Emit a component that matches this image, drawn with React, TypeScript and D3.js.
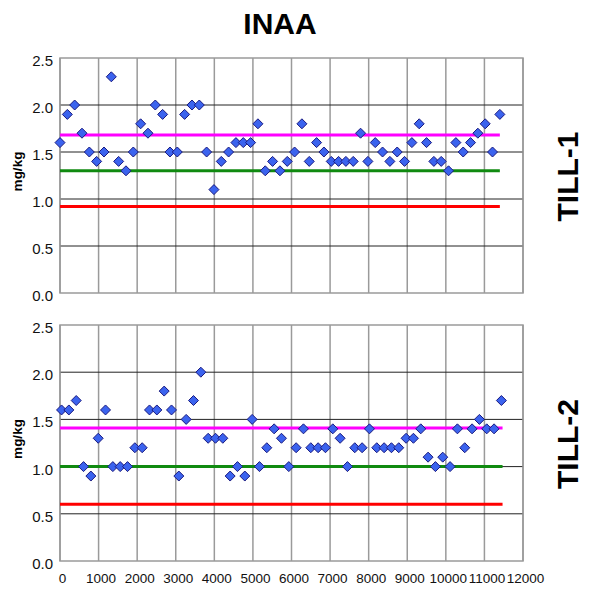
import React from "react";
import * as d3 from "d3";

const title = "INAA";
const yLabel = "mg/kg";
const panelNames = ["TILL-1", "TILL-2"];
const xTicks = [0, 1000, 2000, 3000, 4000, 5000, 6000, 7000, 8000, 9000, 10000, 11000, 12000];
const yTicks = [0, 0.5, 1.0, 1.5, 2.0, 2.5];

const till1X = [0,190,380,570,760,950,1140,1330,1520,1710,1900,2090,2280,2470,2660,2850,3040,3230,3420,3610,3800,3990,4180,4370,4560,4750,4940,5130,5320,5510,5700,5890,6080,6270,6460,6650,6840,7030,7220,7410,7600,7790,7980,8170,8360,8550,8740,8930,9120,9310,9500,9690,9880,10070,10260,10450,10640,10830,11020,11210,11400];
const till1Values = [1.6,1.9,2.0,1.7,1.5,1.4,1.5,2.3,1.4,1.3,1.5,1.8,1.7,2.0,1.9,1.5,1.5,1.9,2.0,2.0,1.5,1.1,1.4,1.5,1.6,1.6,1.6,1.8,1.3,1.4,1.3,1.4,1.5,1.8,1.4,1.6,1.5,1.4,1.4,1.4,1.4,1.7,1.4,1.6,1.5,1.4,1.5,1.4,1.6,1.8,1.6,1.4,1.4,1.3,1.6,1.5,1.6,1.7,1.8,1.5,1.9];

const till2X = [40,230,420,610,800,990,1180,1370,1560,1750,1940,2130,2320,2510,2700,2890,3080,3270,3460,3650,3840,4030,4220,4410,4600,4790,4980,5170,5360,5550,5740,5930,6120,6310,6500,6690,6880,7070,7260,7450,7640,7830,8020,8210,8400,8590,8780,8970,9160,9350,9540,9730,9920,10110,10300,10490,10680,10870,11060,11250,11440];
const till2Values = [1.6,1.6,1.7,1.0,0.9,1.3,1.6,1.0,1.0,1.0,1.2,1.2,1.6,1.6,1.8,1.6,0.9,1.5,1.7,2.0,1.3,1.3,1.3,0.9,1.0,0.9,1.5,1.0,1.2,1.4,1.3,1.0,1.2,1.4,1.2,1.2,1.2,1.4,1.3,1.0,1.2,1.2,1.4,1.2,1.2,1.2,1.2,1.3,1.3,1.4,1.1,1.0,1.1,1.0,1.4,1.2,1.4,1.5,1.4,1.4,1.7];

// reference levels: [upper (magenta), certified (green), lower (red)]
const till1Refs = [1.68, 1.3, 0.92];
const till2Refs = [1.41, 1.0, 0.6];
const till1RefEnd = 11400;
const till2RefEnd = 11470;
const refColors = ["#ff00ff", "#108a10", "#ff0000"];

const FONT = "'Liberation Sans', Arial, Helvetica, sans-serif";

const x = d3.scaleLinear().domain([0, 12000]).range([60, 523]);

const panels = [
  { name: panelNames[0], xs: till1X, ys: till1Values, refs: till1Refs, refEnd: till1RefEnd, top: 58, bottom: 293, showX: false },
  { name: panelNames[1], xs: till2X, ys: till2Values, refs: till2Refs, refEnd: till2RefEnd, top: 325, bottom: 561, showX: true },
];

function Panel({ p }: { p: typeof panels[number] }) {
  const y = d3.scaleLinear().domain([0, 2.5]).range([p.bottom, p.top]);
  const cy = (p.top + p.bottom) / 2;
  const diamond = (cx: number, cyy: number) => {
    const r = 5;
    return `M${cx},${cyy - r}L${cx + r},${cyy}L${cx},${cyy + r}L${cx - r},${cyy}Z`;
  };
  return (
    <g>
      {xTicks.map((t) => (
        <line key={"v" + t} x1={x(t)} x2={x(t)} y1={p.top} y2={p.bottom} stroke="#9a9a9a" strokeWidth={1.5} />
      ))}
      {yTicks.filter((t) => t > 0 && t < 2.5).map((t) => (
        <line key={"h" + t} x1={60} x2={523} y1={y(t)} y2={y(t)} stroke="#222" strokeWidth={1} />
      ))}
      <rect x={60} y={p.top} width={463} height={p.bottom - p.top} fill="none" stroke="#9a9a9a" strokeWidth={1.5} />
      {p.refs.map((r, i) => (
        <line key={"r" + i} x1={x(0)} x2={x(p.refEnd)} y1={y(r)} y2={y(r)} stroke={refColors[i]} strokeWidth={3} />
      ))}
      {p.xs.map((xv, i) => (
        <path key={"d" + i} d={diamond(x(xv), y(p.ys[i]))} fill="#3b63ee" stroke="#1a1a80" strokeWidth={1} />
      ))}
      {yTicks.map((t) => (
        <text key={"yt" + t} x={53} y={y(t) + 8} textAnchor="end" fontSize={15} fontFamily={FONT} fill="#111">
          {t.toFixed(1)}
        </text>
      ))}
      {p.showX &&
        xTicks.map((t) => (
          <text key={"xt" + t} x={x(t) + 2.5} y={583} textAnchor="middle" fontSize={13.5} fontFamily={FONT} fill="#111">
            {t}
          </text>
        ))}
      <text
        transform={`translate(22,${cy - 4}) rotate(-90)`}
        textAnchor="middle"
        fontSize={13.5}
        fontWeight="bold"
        fontFamily={FONT}
        fill="#000"
      >
        {yLabel}
      </text>
      <text
        transform={`translate(578,${cy + 1}) rotate(-90)`}
        textAnchor="middle"
        fontSize={30}
        fontWeight="bold"
        fontFamily={FONT}
        fill="#000"
      >
        {p.name}
      </text>
    </g>
  );
}

export default function App() {
  return (
    <svg
      width={589}
      height={601}
      style={{ position: "absolute", left: 0, top: 0, background: "#fff" }}
    >
      <rect width={589} height={601} fill="#fff" />
      <text x={280} y={34} textAnchor="middle" fontSize={30} fontWeight="bold" fontFamily={FONT} fill="#000">
        {title}
      </text>
      {panels.map((p) => (
        <Panel key={p.name} p={p} />
      ))}
    </svg>
  );
}
